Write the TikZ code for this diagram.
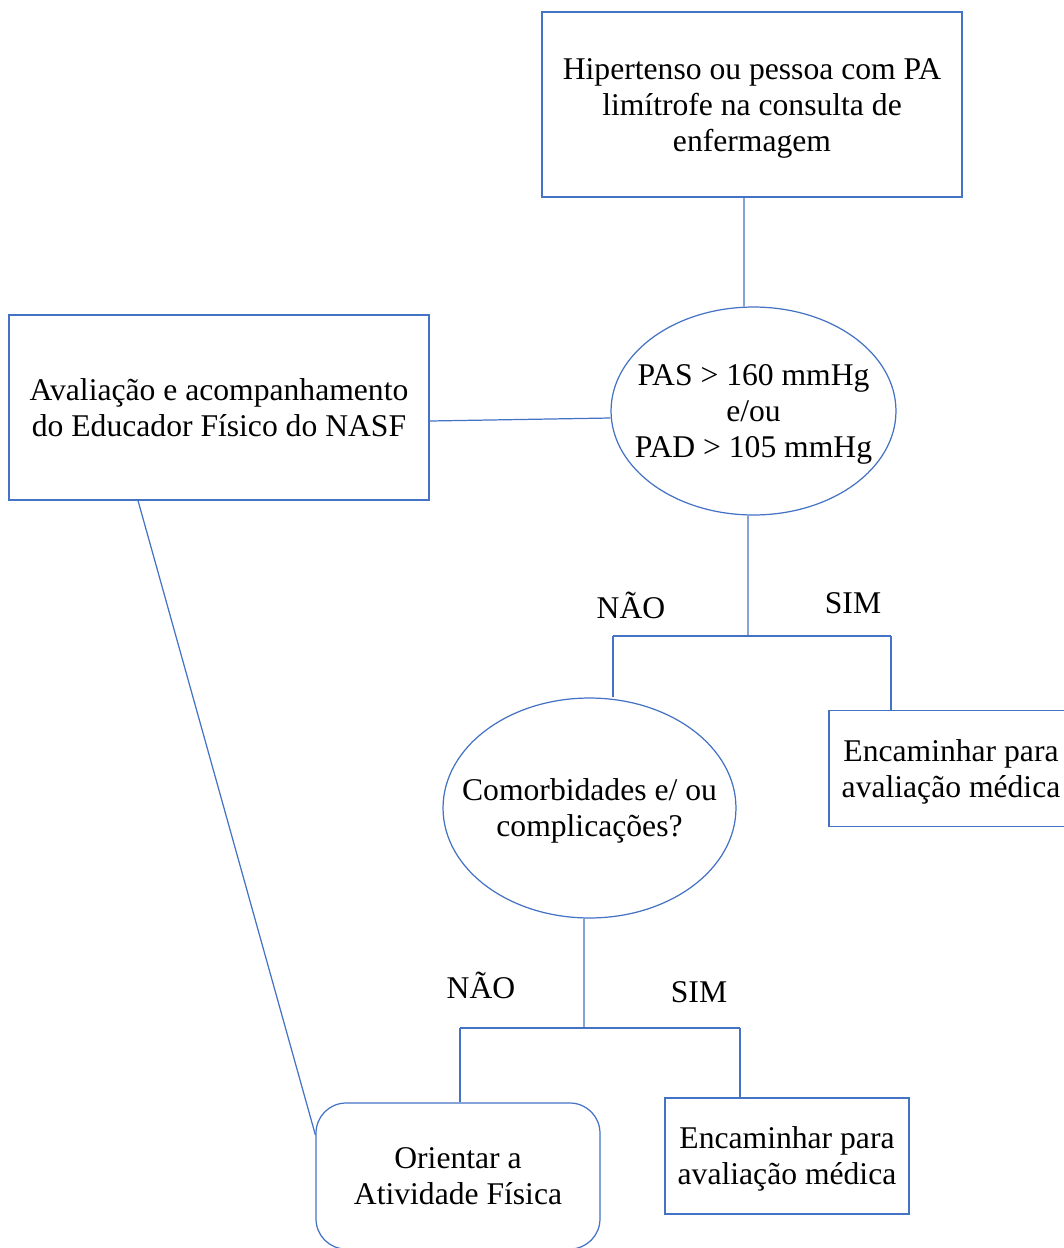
\documentclass[tikz,border=0pt]{standalone}
\usepackage{fontspec}
\setmainfont{Liberation Serif}
\usetikzlibrary{shapes.geometric}
\definecolor{fluxo}{RGB}{68,114,196}
\newcommand{\linha}{\rule[-3.9pt]{0pt}{19.94pt}}
\tikzset{
  caixa/.style={rectangle, draw=fluxo, line width=0.7pt, align=center, inner sep=0pt},
  elipse/.style={ellipse, draw=fluxo, line width=0.7pt, align=center, inner xsep=-0.6cm, inner ysep=0pt},
  ligacao/.style={draw=fluxo, line width=0.7pt},
  rotulo/.style={inner sep=0pt}
}

\begin{document}
\begin{tikzpicture}[x=0.02cm, y=-0.02cm, every node/.style={font=\fontsize{18}{20.5}\selectfont}]
  \useasboundingbox (0,0) rectangle (1064,1248);
  \node[caixa, minimum width=8.4cm, minimum height=3.7cm] (inicio) at (752,104.5) {\linha Hipertenso ou pessoa com PA\\limítrofe na consulta de\\enfermagem\linha};
  \node[elipse, minimum width=5.7cm, minimum height=4.16cm] (pa) at (753.5,411) {\linha PAS > 160 mmHg\\e/ou\\PAD > 105 mmHg\linha};
  \node[caixa, minimum width=8.4cm, minimum height=3.7cm] (nasf) at (219,407.5) {\linha Avaliação e acompanhamento\\do Educador Físico do NASF\linha};
  \node[caixa, minimum width=4.88cm, minimum height=2.32cm] (enc1) at (951,768.5) {\linha Encaminhar para\\avaliação médica\linha};
  \node[elipse, minimum width=5.86cm, minimum height=4.4cm] (comorb) at (589.5,808) {\linha Comorbidades e/ ou\\complicações?\linha};
  \node[caixa, rounded corners=0.6cm, minimum width=5.68cm, minimum height=2.92cm] (orient) at (458,1176) {\linha Orientar a\\Atividade Física\linha};
  \node[caixa, minimum width=4.88cm, minimum height=2.32cm] (enc2) at (787,1156) {\linha Encaminhar para\\avaliação médica\linha};
  \node[rotulo] (nao1) at (631,605) {NÃO};
  \node[rotulo] (sim1) at (853,603) {SIM};
  \node[rotulo] (nao2) at (481,985) {NÃO};
  \node[rotulo] (sim2) at (699,992) {SIM};
  \coordinate (j1) at (748,636);
  \coordinate (j1e) at (613,636);
  \coordinate (j1d) at (891,636);
  \coordinate (j2) at (584,1028);
  \coordinate (j2e) at (460,1028);
  \coordinate (j2d) at (740,1028);
  \draw[ligacao] ([xshift=-0.16cm]inicio.south) -- ([xshift=-0.19cm]pa.north);
  \draw[ligacao] ([yshift=-0.27cm]nasf.east) -- ([yshift=-0.14cm]pa.west);
  \draw[ligacao] ([xshift=-0.11cm]pa.south) -- (j1);
  \draw[ligacao] (j1e) -- (j1d);
  \draw[ligacao] (j1e) -- (j1e |- comorb.north);
  \draw[ligacao] (j1d) -- (j1d |- enc1.north);
  \draw[ligacao] ([xshift=-0.11cm]comorb.south) -- (j2);
  \draw[ligacao] (j2e) -- (j2d);
  \draw[ligacao] (j2e) -- (j2e |- orient.north);
  \draw[ligacao] (j2d) -- (j2d |- enc2.north);
  \draw[ligacao] ([xshift=-1.62cm]nasf.south) -- ([yshift=0.82cm]orient.west);
\end{tikzpicture}
\end{document}
